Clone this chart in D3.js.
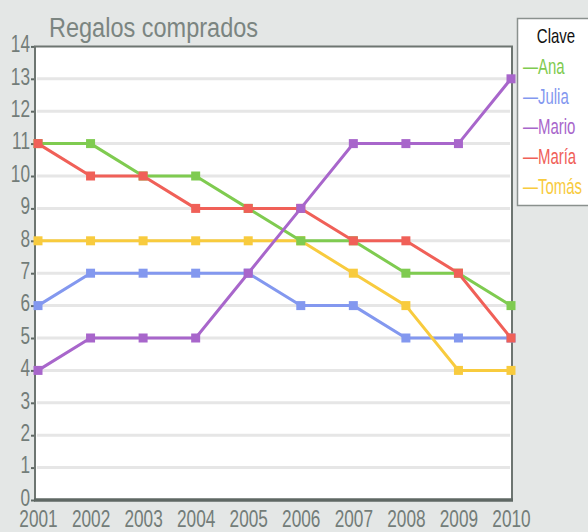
<!DOCTYPE html>
<html><head><meta charset="utf-8">
<script src="https://cdn.jsdelivr.net/npm/d3@7"></script>
<style>
html,body{margin:0;padding:0;background:#e4e7e6;}
svg{display:block;}
text{font-family:"Liberation Sans",Arial,sans-serif;}
</style></head>
<body>
<svg id="c" width="588" height="532"></svg>
<script>
const years = [2001,2002,2003,2004,2005,2006,2007,2008,2009,2010];
const seriesNames = ["Ana","Julia","Mario","María","Tomás"];
const seriesColors = ["#7fcb50","#8398ef","#a866cb","#f06058","#f8cb3e"];
const ana   = [11,11,10,10,9,8,8,7,7,6];
const julia = [6,7,7,7,7,6,6,5,5,5];
const mario = [4,5,5,5,7,9,11,11,11,13];
const maria = [11,10,10,9,9,9,8,8,7,5];
const tomas = [8,8,8,8,8,8,7,6,4,4];
const yTicks = d3.range(0,15);
const title = "Regalos comprados";
const legendTitle = "Clave";

const allSeries = [ana,julia,mario,maria,tomas];
const svg = d3.select("#c");
const x = d3.scalePoint().domain(years).range([38,511]);
const y = d3.scaleLinear().domain([0,14]).range([500,46.4]);
const left = 35, right = 512;
const SX = 0.75;

svg.append("rect").attr("x",left).attr("y",y(14)).attr("width",right-left).attr("height",y(0)-y(14)).attr("fill","#ffffff");

svg.append("g").selectAll("line").data(yTicks.filter(d=>d>0&&d<14)).join("line")
  .attr("x1",left+2).attr("x2",right-2).attr("y1",d=>y(d)).attr("y2",d=>y(d))
  .attr("stroke","#e6e6e6").attr("stroke-width",3);

const yAxis = d3.axisLeft(y).tickValues(yTicks).tickSize(4).tickPadding(2).tickFormat(d3.format("d"));
const gy = svg.append("g").attr("transform",`translate(${left},0)`).call(yAxis);
gy.select(".domain").remove();
gy.selectAll(".tick line").attr("stroke","#5f6864").attr("stroke-width",2);
gy.selectAll(".tick text").attr("fill","#737d79").attr("font-size",23).attr("dy","0.23em")
  .attr("transform",`scale(${SX},1)`).attr("x",-5/SX);

const xAxis = d3.axisBottom(x).tickSize(0).tickPadding(6).tickFormat(d3.format("d"));
const gx = svg.append("g").attr("transform",`translate(0,${y(0)})`).call(xAxis);
gx.select(".domain").remove();
gx.selectAll(".tick text").attr("fill","#737d79").attr("font-size",23).attr("dy",0)
  .attr("transform",`scale(${SX},1)`).attr("y",27);

svg.append("line").attr("x1",left).attr("x2",left).attr("y1",y(14)).attr("y2",y(0)).attr("stroke","#6d7571").attr("stroke-width",2);
svg.append("line").attr("x1",right).attr("x2",right).attr("y1",y(14)).attr("y2",y(0)).attr("stroke","#6d7571").attr("stroke-width",2);
svg.append("line").attr("x1",left-1).attr("x2",right+1).attr("y1",y(14)).attr("y2",y(14)).attr("stroke","#6d7571").attr("stroke-width",2);
svg.append("line").attr("x1",left-1).attr("x2",right+1).attr("y1",y(0)).attr("y2",y(0)).attr("stroke","#5f6864").attr("stroke-width",3.5);

const line = d3.line().x((d,i)=>x(years[i])).y(d=>y(d));
const order = [1,4,0,3,2];
order.forEach(si=>{
  const data = allSeries[si];
  const g = svg.append("g");
  g.append("path").attr("d",line(data)).attr("fill","none").attr("stroke",seriesColors[si]).attr("stroke-width",3);
  g.selectAll("rect").data(data).join("rect")
    .attr("x",(d,i)=>x(years[i])-4.5).attr("y",d=>y(d)-4.5).attr("width",9).attr("height",9)
    .attr("fill",seriesColors[si]);
});

svg.append("text").attr("transform","translate(49,37) scale(0.84,1)").attr("font-size",28).attr("fill","#7b8581").text(title);

svg.append("rect").attr("x",517.5).attr("y",18.5).attr("width",80).attr("height",187).attr("fill","#ffffff").attr("stroke","#8a918e").attr("stroke-width",1.5);
svg.append("text").attr("transform","translate(556,43) scale(0.75,1)").attr("text-anchor","middle").attr("font-size",20).attr("fill","#111").text(legendTitle);
svg.append("g").selectAll("text").data(seriesNames).join("text")
  .attr("transform",(d,i)=>`translate(523,${74+i*30}) scale(0.68,1)`).attr("font-size",22).attr("fill",(d,i)=>seriesColors[i])
  .text(d=>"—"+d);
</script>
</body></html>
